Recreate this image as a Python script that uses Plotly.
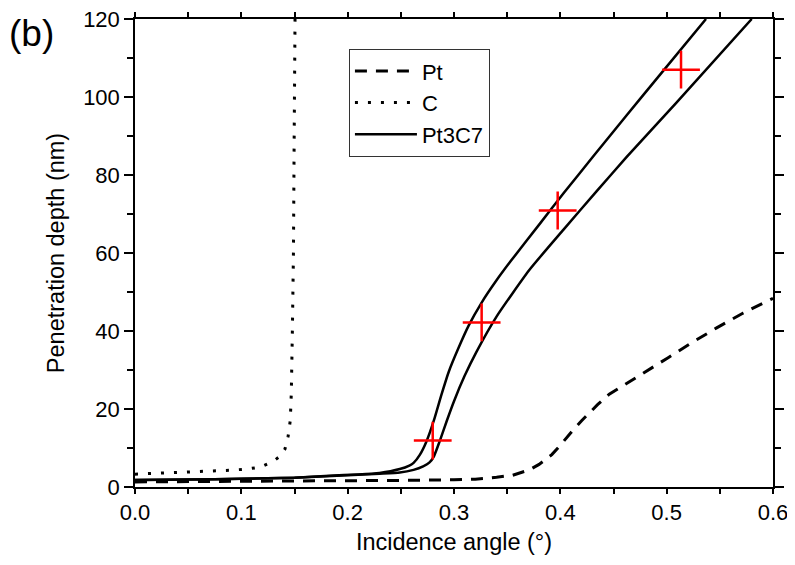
import plotly.graph_objects as go

# ---- data ----
pt_angle = [0, 0.1, 0.2, 0.25, 0.3, 0.32, 0.34, 0.355, 0.371, 0.38, 0.392, 0.40, 0.411,
            0.42, 0.435, 0.446, 0.458, 0.481, 0.501, 0.523, 0.547, 0.572, 0.594, 0.60]
pt_depth = [1.3, 1.4, 1.55, 1.7, 1.85, 2.0, 2.5, 3.0, 4.4, 5.8, 8.3, 10.7, 14.3,
            17.0, 21.1, 23.8, 25.8, 29.6, 33.1, 36.9, 40.8, 44.6, 47.6, 48.4]

c_angle = [0, 0.03, 0.06, 0.09, 0.105, 0.118, 0.13, 0.137, 0.141, 0.144, 0.146,
           0.147, 0.148, 0.149, 0.1497, 0.1505]
c_depth = [3.3, 3.6, 4.0, 4.3, 4.6, 5.1, 6.6, 8.0, 9.7, 13.0, 17.0,
           24.0, 40.0, 60.0, 90.0, 120.0]

pt3c7_a_angle = [0, 0.05, 0.1, 0.15, 0.183, 0.21, 0.23, 0.249, 0.258, 0.262, 0.268,
                 0.274, 0.281, 0.288, 0.295, 0.304, 0.314, 0.326, 0.34, 0.353, 0.381,
                 0.403, 0.431, 0.462, 0.494, 0.537]
pt3c7_a_depth = [1.8, 1.9, 2.1, 2.4, 2.9, 3.2, 3.6, 4.6, 5.5, 6.2, 8.3,
                 11.6, 17.0, 23.5, 29.5, 35.5, 41.5, 47.3, 53.0, 57.8, 67.6,
                 75.3, 84.8, 95.2, 105.8, 120.0]

pt3c7_b_angle = [0, 0.05, 0.1, 0.15, 0.2, 0.23, 0.249, 0.262, 0.271, 0.277, 0.281,
                 0.287, 0.293, 0.3, 0.31, 0.321, 0.34, 0.371, 0.403, 0.434, 0.462,
                 0.509, 0.58]
pt3c7_b_depth = [1.8, 1.9, 2.1, 2.4, 3.0, 3.4, 3.7, 4.4, 5.3, 6.3, 7.8,
                 12.1, 16.8, 22.0, 28.5, 34.6, 43.7, 55.7, 66.0, 75.8, 84.5,
                 98.5, 120.0]

cross_angle = [0.280, 0.326, 0.3975, 0.5135]
cross_depth = [11.9, 42.2, 70.9, 107.0]

FONT = "Liberation Sans, Arial, sans-serif"

fig = go.Figure()
fig.add_trace(go.Scatter(x=pt_angle, y=pt_depth, mode="lines", name="Pt",
                         line=dict(color="black", width=3, dash="12px,9px")))
fig.add_trace(go.Scatter(x=c_angle, y=c_depth, mode="lines", name="C",
                         line=dict(color="black", width=3, dash="3px,10px")))
fig.add_trace(go.Scatter(x=pt3c7_a_angle, y=pt3c7_a_depth, mode="lines", name="Pt3C7",
                         legendgroup="pt3c7",
                         line=dict(color="black", width=2.5, shape="spline", smoothing=0.5)))
fig.add_trace(go.Scatter(x=pt3c7_b_angle, y=pt3c7_b_depth, mode="lines", name="Pt3C7",
                         legendgroup="pt3c7", showlegend=False,
                         line=dict(color="black", width=2.5, shape="spline", smoothing=0.5)))
fig.add_trace(go.Scatter(x=cross_angle, y=cross_depth, mode="markers", showlegend=False,
                         marker=dict(symbol="cross-thin", size=27, color="red",
                                     line=dict(color="red", width=2.5))))

axis_common = dict(showline=True, linecolor="black", linewidth=1.5, mirror="ticks",
                   ticks="outside", tickcolor="black", tickwidth=1.5,
                   showgrid=False, zeroline=False, ticklabeloverflow="allow",
                   tickfont=dict(family=FONT, size=22, color="black"))

fig.update_xaxes(range=[0, 0.6], dtick=0.1, tick0=0, tickformat=".1f", ticklen=5,
                 minor=dict(dtick=0.05, ticks="outside", ticklen=5, tickcolor="black", tickwidth=1.5),
                 title=dict(text="Incidence angle (°)", font=dict(family=FONT, size=23.5, color="black"),
                            standoff=9),
                 **axis_common)
fig.update_yaxes(range=[0, 120], dtick=20, tick0=0, ticklen=9,
                 minor=dict(dtick=10, ticks="outside", ticklen=6, tickcolor="black", tickwidth=1.5),
                 title=dict(text="Penetration depth (nm)", font=dict(family=FONT, size=23.5, color="black"),
                            standoff=12),
                 **axis_common)

fig.update_layout(
    width=787, height=557,
    margin=dict(l=127, r=22, t=11, b=78, autoexpand=False),
    paper_bgcolor="white", plot_bgcolor="white",
    font=dict(family=FONT, color="black"),
    legend=dict(x=0.335, y=0.936, xanchor="left", yanchor="top",
                bordercolor="#333", borderwidth=1.2, bgcolor="white",
                font=dict(family=FONT, size=22, color="black"),
                itemwidth=62, tracegroupgap=0),
    annotations=[dict(text="(b)", x=-0.162, y=0.97, xref="paper", yref="paper",
                      xanchor="center", yanchor="middle", showarrow=False,
                      font=dict(family=FONT, size=37, color="black"))],
)

fig.write_html("out.html")
